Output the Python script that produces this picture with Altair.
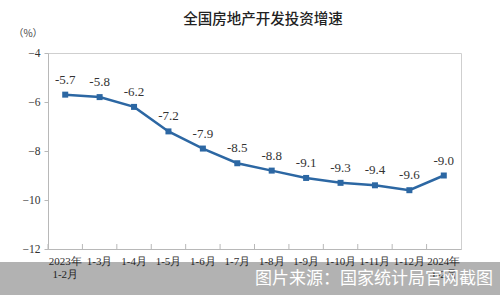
import altair as alt
import pandas as pd

categories = ["2023年\n1-2月", "1-3月", "1-4月", "1-5月", "1-6月", "1-7月", "1-8月",
              "1-9月", "1-10月", "1-11月", "1-12月", "2024年\n1-2月"]
values = [-5.7, -5.8, -6.2, -7.2, -7.9, -8.5, -8.8, -9.1, -9.3, -9.4, -9.6, -9.0]
labels = ["-5.7", "-5.8", "-6.2", "-7.2", "-7.9", "-8.5", "-8.8", "-9.1", "-9.3", "-9.4", "-9.6", "-9.0"]
y_ticks = [-4, -6, -8, -10, -12]
title_text = "全国房地产开发投资增速"
unit_text = "（%）"
source_text = "图片来源：国家统计局官网截图"

df = pd.DataFrame({"cat": categories, "val": values, "lab": labels})

SERIF = "Times New Roman, Times, Liberation Serif, serif"
SANS = "Noto Sans CJK SC"
BLUE = "#2c67a3"

W, H = 413, 196

x_axis = alt.Axis(labelAngle=0, labelExpr="split(datum.label, '\\n')",
                  labelFont=SERIF, labelFontSize=11, labelColor="#333",
                  labelPadding=6, ticks=False, domainColor="#b8b8b8",
                  labelLineHeight=13, zindex=0, bandPosition=0.5)
x_enc = alt.X("cat:N", sort=categories, title=None,
              scale=alt.Scale(paddingInner=0, paddingOuter=0), axis=x_axis)
y_enc = alt.Y("val:Q", title=None,
              scale=alt.Scale(domain=[-12, -4], nice=False),
              axis=alt.Axis(values=y_ticks, grid=False, labelFont=SERIF, labelFontSize=11.5,
                            labelColor="#333", tickSize=4, tickColor="#b8b8b8",
                            domainColor="#b8b8b8", labelPadding=4, zindex=0))

base = alt.Chart(df)

line = base.mark_line(color=BLUE, strokeWidth=2.5).encode(x=x_enc, y=y_enc)

ticks = base.mark_rule(color="#b8b8b8", strokeWidth=1).encode(
    x=alt.X("cat:N", sort=categories, bandPosition=0, axis=x_axis),
    y=alt.value(H - 5), y2=alt.value(H))

pts = base.mark_square(color=BLUE, size=36, opacity=1).encode(
    x=alt.X("cat:N", sort=categories), y="val:Q")
txt = base.mark_text(font=SERIF, fontSize=13, color="#333", dy=-15).encode(
    x=alt.X("cat:N", sort=categories), y="val:Q", text="lab:N")

title = alt.Chart(pd.DataFrame({"t": [title_text]})).mark_text(
    font=SANS, fontSize=14.5, fontWeight=500, color="#222").encode(
    x=alt.value(215), y=alt.value(-33), text="t:N")
unit = alt.Chart(pd.DataFrame({"t": [unit_text]})).mark_text(
    font=SANS, fontSize=10, color="#444").encode(
    x=alt.value(-20), y=alt.value(-19), text="t:N")

banner = alt.Chart(pd.DataFrame({"a": [0]})).mark_rect(color="black", opacity=0.3).encode(
    x=alt.value(-48), x2=alt.value(452), y=alt.value(209), y2=alt.value(242))
source = alt.Chart(pd.DataFrame({"t": [source_text]})).mark_text(
    font=SANS, fontSize=17, color="white", align="right", baseline="middle").encode(
    x=alt.value(445), y=alt.value(226), text="t:N")

chart = alt.layer(line, ticks, pts, txt, title, unit, banner, source).properties(
    width=W, height=H,
    autosize=alt.AutoSizeParams(type="none"),
    padding={"left": 48, "top": 53, "right": 39, "bottom": 46},
    background="white",
).configure_view(stroke="#cfcfcf", strokeWidth=1)

chart.save("out.html", embed_options={"renderer": "svg", "actions": False})
